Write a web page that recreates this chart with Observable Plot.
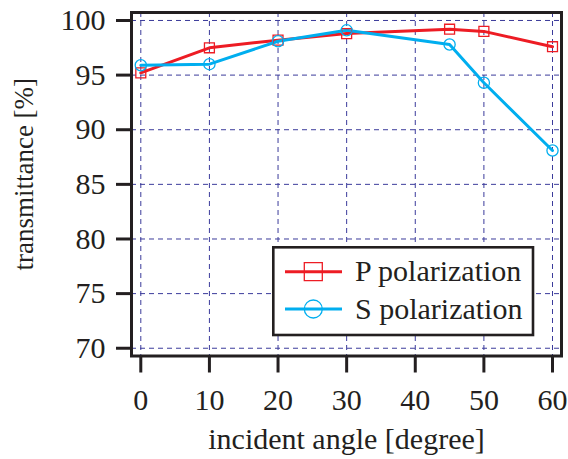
<!DOCTYPE html>
<html>
<head>
<meta charset="utf-8">
<script src="https://cdn.jsdelivr.net/npm/d3@7"></script>
<script src="https://cdn.jsdelivr.net/npm/@observablehq/plot@0.6"></script>
<style>
  html, body { margin: 0; padding: 0; background: white; }
</style>
</head>
<body>
<div id="chart"></div>
<script>
const angles = [0, 10, 20, 30, 45, 50, 60];
const pValues = [95.2, 97.5, 98.2, 98.8, 99.2, 99.0, 97.6];
const sValues = [95.9, 96.0, 98.1, 99.1, 97.8, 94.3, 88.1];
const seriesNames = ["P polarization", "S polarization"];
const seriesColors = ["#ed1c24", "#00aeef"];
const seriesSymbols = ["square", "circle"];
const xTicks = [0, 10, 20, 30, 40, 50, 60];
const yTicks = [70, 75, 80, 85, 90, 95, 100];
const xLabel = "incident angle [degree]";
const yLabel = "transmittance [%]";

const data = [];
angles.forEach((a, i) => data.push({angle: a, value: pValues[i], series: seriesNames[0]}));
angles.forEach((a, i) => data.push({angle: a, value: sValues[i], series: seriesNames[1]}));

const ink = "#231f20";
const gridColor = "#3b3b9b";

const chart = Plot.plot({
  width: 568,
  height: 459,
  marginLeft: 131,
  marginRight: 7,
  marginTop: 12,
  marginBottom: 103.5,
  x: {domain: [-1.355, 61.31]},
  y: {domain: [69.29, 100.73]},
  color: {domain: seriesNames, range: seriesColors},
  symbol: {domain: seriesNames, range: seriesSymbols},
  style: {fontFamily: "'Liberation Serif', 'Times New Roman', serif", fontSize: "30px", color: ink, background: "white"},
  marks: [
    Plot.gridX(xTicks, {stroke: gridColor, strokeOpacity: 1, strokeWidth: 1, strokeDasharray: "5,4"}),
    Plot.gridY(yTicks, {stroke: gridColor, strokeOpacity: 1, strokeWidth: 1, strokeDasharray: "5,4"}),
    Plot.line(data, {x: "angle", y: "value", z: "series", stroke: "series", strokeWidth: 3}),
    Plot.dot(data, {x: "angle", y: "value", stroke: "series", symbol: "series", r: 5.6, strokeWidth: 1.3, fill: "none"}),
    Plot.frame({stroke: ink, strokeWidth: 3}),
    Plot.axisX(xTicks, {tickSize: 17, tickPadding: 16, strokeWidth: 3, label: null, fontSize: 30}),
    Plot.axisY(yTicks, {tickSize: 15, tickPadding: 11, strokeWidth: 3, label: null, fontSize: 30}),
    Plot.text([xLabel], {frameAnchor: "bottom", text: d => d, dy: 82.9, textAnchor: "middle", lineAnchor: "middle", fontSize: 30, fill: ink}),
    Plot.text([yLabel], {frameAnchor: "left", text: d => d, rotate: -90, dx: -107.5, dy: -10, textAnchor: "middle", lineAnchor: "middle", fontSize: 27, fill: ink})
  ]
});

document.getElementById("chart").appendChild(chart);

// Legend box inside the plot area
const svg = d3.select(chart);
const lg = svg.append("g").attr("transform", "translate(273.3,247.3)");
lg.append("rect").attr("x", 0).attr("y", 0).attr("width", 259.7).attr("height", 87.7)
  .attr("fill", "white").attr("stroke", ink).attr("stroke-width", 2.6);
const symSize = {square: 324, circle: 254};
seriesNames.forEach((name, i) => {
  const cy = 24.4 + i * 37.3;
  const row = lg.append("g").attr("transform", `translate(0,${cy})`);
  row.append("line").attr("x1", 11.7).attr("x2", 68.7).attr("y1", 0).attr("y2", 0)
    .attr("stroke", seriesColors[i]).attr("stroke-width", 3);
  const symType = seriesSymbols[i] === "square" ? d3.symbolSquare : d3.symbolCircle;
  row.append("path").attr("transform", "translate(40,0)")
    .attr("d", d3.symbol(symType, symSize[seriesSymbols[i]])())
    .attr("fill", "none").attr("stroke", seriesColors[i]).attr("stroke-width", 1.3);
  row.append("text").attr("x", 81.7).attr("y", 0).attr("dy", "0.32em")
    .attr("text-anchor", "start")
    .attr("font-size", 30).attr("fill", ink).text(name);
});
</script>
</body>
</html>
